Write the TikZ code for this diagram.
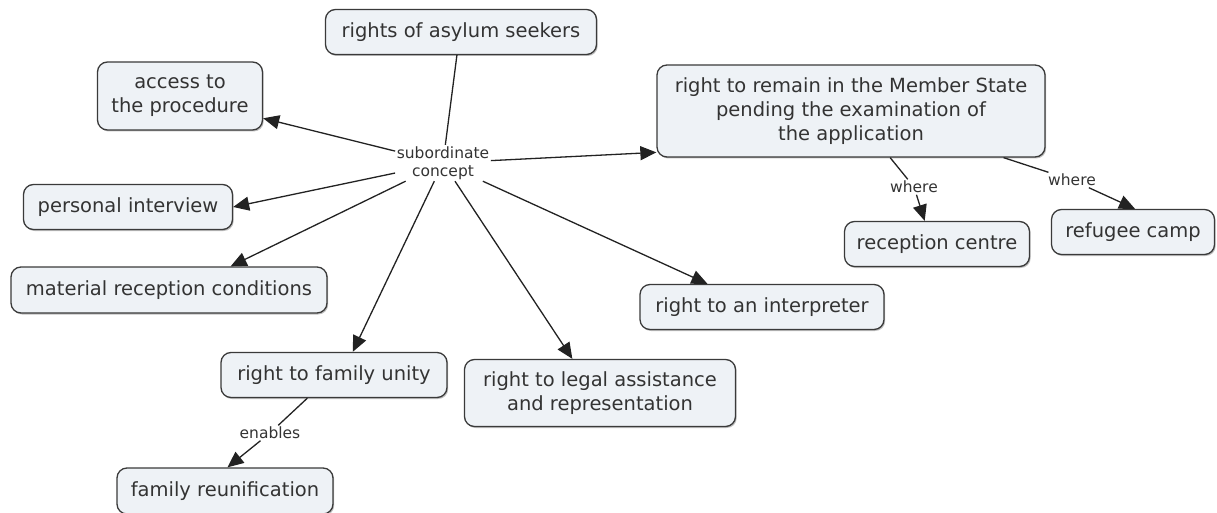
\documentclass[tikz,border=0pt]{standalone}
\usepackage{fontspec}
\setmainfont{DejaVu Sans}
\usetikzlibrary{arrows.meta,shadows}
\definecolor{boxfill}{HTML}{EEF2F6}
\definecolor{boxline}{HTML}{3A3A3A}
\definecolor{ink}{HTML}{333333}
\definecolor{wire}{HTML}{222222}
\begin{document}
\begin{tikzpicture}[x=1pt,y=-1pt,
  concept/.style={draw=boxline, line width=1.3pt, fill=boxfill, rounded corners=10pt,
    align=center, inner sep=0pt, text=ink, font=\fontsize{19.5}{24}\selectfont,
    drop shadow={shadow xshift=1.2pt, shadow yshift=-1.5pt, fill=black, opacity=0.25}},
  linklabel/.style={text=ink, font=\fontsize{15.5}{18}\selectfont, inner sep=1.5pt, align=center},
  link/.style={draw=wire, line width=1.3pt},
  arrowlink/.style={link, -{Triangle[length=16pt,width=14pt]}}]
\useasboundingbox (0,0) rectangle (1217,513);

% concepts
\node[concept, minimum width=271pt, minimum height=45pt] (ras) at (461,32) {rights of asylum seekers};
\node[concept, minimum width=165pt, minimum height=68pt] (acc) at (180,96) {access to\\the procedure};
\node[concept, minimum width=209pt, minimum height=45pt] (pi) at (128,207) {personal interview};
\node[concept, minimum width=316pt, minimum height=46pt] (mat) at (169,290) {material reception conditions};
\node[concept, minimum width=226pt, minimum height=45pt] (fu) at (334,375) {right to family unity};
\node[concept, minimum width=216pt, minimum height=46pt] (fr) at (225,491) {family reunification};
\node[concept, minimum width=271pt, minimum height=67pt] (leg) at (600,393) {right to legal assistance\\and representation};
\node[concept, minimum width=244pt, minimum height=45pt] (int) at (762,307) {right to an interpreter};
\node[concept, minimum width=388pt, minimum height=92pt] (rem) at (851,111) {right to remain in the Member State\\pending the examination of\\the application};
\node[concept, minimum width=185pt, minimum height=45pt] (rc) at (937,244) {reception centre};
\node[concept, minimum width=163pt, minimum height=45pt] (camp) at (1133,232) {refugee camp};

% linking phrases
\node[linklabel] (sc) at (443,163) {subordinate\\concept};
\node[linklabel] (w1) at (914,187) {where};
\node[linklabel] (w2) at (1072,180) {where};
\node[linklabel] (en) at (270,433) {enables};

% connections
\draw[link] (ras.260) -- (sc);
\draw[arrowlink] (sc) -- (acc.-15);
\draw[arrowlink] (sc) -- (pi.east);
\draw[arrowlink] (sc) -- (mat.21);
\draw[arrowlink] (sc) -- (fu.51);
\draw[arrowlink] (sc) -- (leg.129);
\draw[arrowlink] (sc) -- (int.157);
\draw[arrowlink] (sc) -- (rem.192);

\draw[link] (rem.-50) -- (w1);
\draw[arrowlink] (w1) -- (rc.118);
\draw[link] (rem.-17) -- (w2);
\draw[arrowlink] (w2) -- (camp.85);

\draw[link] (fu.221) -- (en);
\draw[arrowlink] (en) -- (fr.84);
\end{tikzpicture}
\end{document}
